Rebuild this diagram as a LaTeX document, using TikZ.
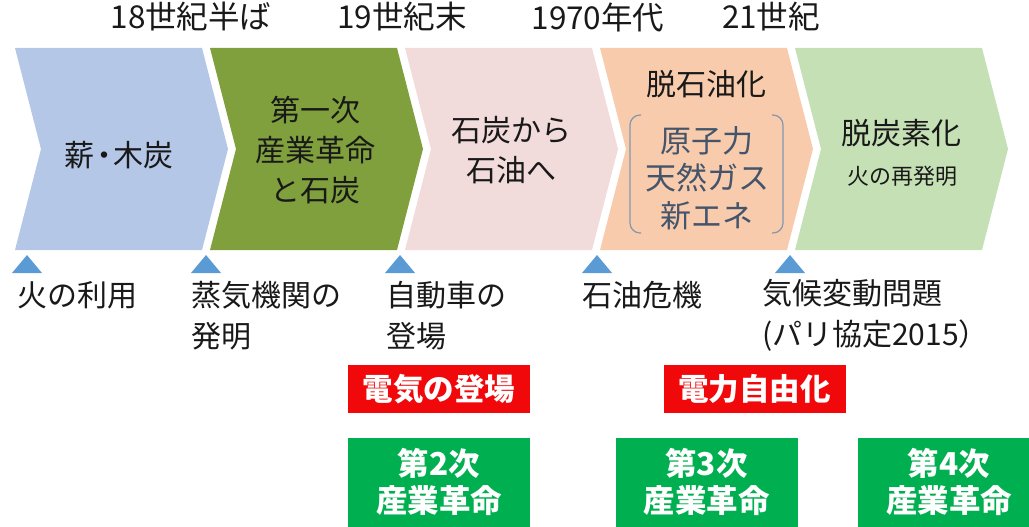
\documentclass[tikz,border=0pt]{standalone}
\usepackage{fontspec}
\setmainfont{Noto Sans CJK JP}
\definecolor{cA}{RGB}{180,199,231}
\definecolor{cB}{RGB}{127,160,60}
\definecolor{cC}{RGB}{242,220,219}
\definecolor{cD}{RGB}{248,203,173}
\definecolor{cE}{RGB}{197,224,180}
\definecolor{triC}{RGB}{91,155,213}
\definecolor{txt}{RGB}{25,25,25}
\definecolor{slate}{RGB}{68,84,106}
\definecolor{brkC}{RGB}{132,151,176}
\definecolor{redC}{RGB}{240,8,10}
\definecolor{grnC}{RGB}{0,176,80}
\tikzset{
  big/.style={inner sep=0pt, text=txt, font=\fontsize{30}{40}\selectfont},
  toplbl/.style={inner sep=0pt, text=txt, font=\fontsize{31.5}{36}\selectfont},
  smalltxt/.style={inner sep=0pt, text=txt, font=\fontsize{22}{26}\selectfont},
  below lbl/.style={inner sep=0pt, text=txt, anchor=west, align=left, font=\fontsize{30}{41}\selectfont},
  brk/.style={draw=brkC, line width=1.2pt, rounded corners=10pt},
  redbox/.style={fill=redC, inner sep=0pt, text=white, minimum width=182pt, minimum height=48pt, font=\fontsize{30.5}{36}\selectfont\bfseries},
  grnbox/.style={fill=grnC, inner sep=0pt, minimum width=182pt, minimum height=102pt, anchor=north},
  grntxt/.style={inner sep=0pt, text=white, align=center, font=\fontsize{31.5}{37}\selectfont\bfseries},
  tri/.style={fill=triC}
}
\begin{document}
\begin{tikzpicture}[x=1pt,y=-1pt]
\useasboundingbox (0,0) rectangle (1029,527);
% chevrons
\foreach \L/\c in {15/cA,210/cB,405/cC,600/cD,795/cE}{
  \fill[\c] (\L,48) -- ++(187,0) -- ++(26,101) -- ++(-26,101) -- ++(-187,0) -- ++(26,-101) -- cycle;
}
% triangles
\foreach \x in {27,206,400,597,790}{
  \fill[tri] (\x-15,273) -- (\x+15,273) -- (\x,255) -- cycle;
}
% top labels
\node[toplbl] (t1) at (191,17) {18世紀半ば};
\node[toplbl] (t2) at (402,17) {19世紀末};
\node[toplbl] (t3) at (598,17) {1970年代};
\node[toplbl] (t4) at (771,17) {21世紀};
% chevron texts
\node[big] (c1t) at (119,155) {薪\kern-0.18em・\kern-0.18em木炭};
\node[big, align=center] (c2t) at (315,150) {第一次\\産業革命\\と石炭};
\node[big, align=center] (c3t) at (511,150) {石炭から\\石油へ};
\node[big] (c4h) at (706,84) {脱石油化};
\node[big, align=center, text=slate, font=\fontsize{31}{37.5}\selectfont] (c4t) at (707,178) {原子力\\天然ガス\\新エネ};
\draw[brk] (641,115) -- (630,115) -- (630,233) -- (641,233);
\draw[brk] (772,115) -- (783,115) -- (783,233) -- (772,233);
\node[big] (c5h) at (901,133) {脱炭素化};
\node[smalltxt] (c5s) at (902,176) {火の再発明};
% bottom labels
\node[below lbl] (b1) at (17,295) {火の利用};
\node[below lbl] (b2) at (191,315.5) {蒸気機関の\\発明};
\node[below lbl] (b3) at (386,315.5) {自動車の\\登場};
\node[below lbl] (b4) at (582,295) {石油危機};
\node[below lbl] (b5) at (762,315.5) {気候変動問題\\(パリ協定2015）};
% red boxes
\node[redbox] (r1) at (439,389) {電気の登場};
\node[redbox] (r2) at (754.5,389) {電力自由化};
% green boxes
\node[grnbox] (g1) at (439,438) {};
\node[grnbox] (g2) at (706.5,438) {};
\node[grnbox] (g3) at (949,438) {};
\node[grntxt] (g1t) at (439,482) {第2次\\産業革命};
\node[grntxt] (g2t) at (706.5,482) {第3次\\産業革命};
\node[grntxt] (g3t) at (949,482) {第4次\\産業革命};
\end{tikzpicture}
\end{document}
